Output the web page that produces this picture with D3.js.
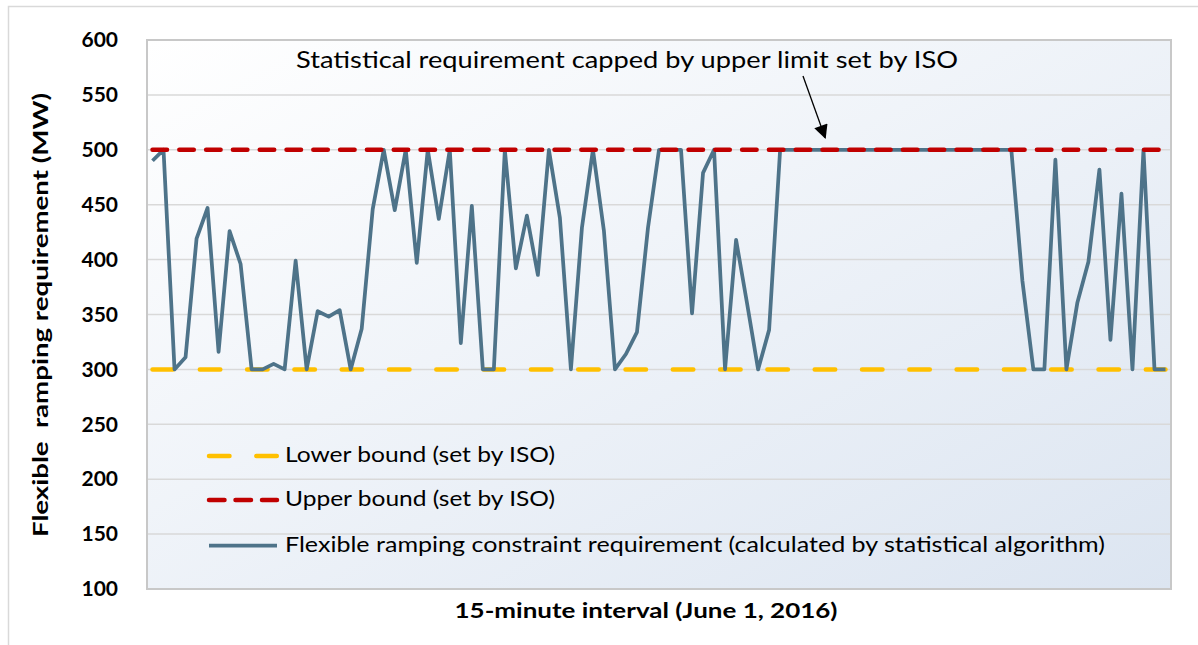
<!DOCTYPE html>
<html>
<head>
<meta charset="utf-8">
<script src="https://cdn.jsdelivr.net/npm/d3@7"></script>
<style>
  html, body { margin: 0; padding: 0; background: #ffffff; }
  svg { display: block; }
  text { font-family: Lato, "Open Sans", "DejaVu Sans", sans-serif; fill: #000; }
</style>
</head>
<body>
<svg id="chart" width="1198" height="645"></svg>
<script>
// Flexible ramping constraint requirement, 15-minute intervals (MW)
const requirement = [
  490, 500, 300, 311, 419, 447, 316, 426, 396, 300,
  300, 305, 300, 399, 300, 353, 348, 354, 300, 337,
  446, 500, 445, 500, 397, 500, 437, 500, 324, 449,
  300, 300, 500, 392, 440, 386, 500, 438, 300, 429,
  500, 426, 300, 314, 334, 429, 500, 500, 500, 351,
  479, 500, 300, 418, 360, 300, 336, 500, 500, 500,
  500, 500, 500, 500, 500, 500, 500, 500, 500, 500,
  500, 500, 500, 500, 500, 500, 500, 500, 500, 381,
  300, 300, 491, 300, 361, 398, 482, 327, 460, 300,
  500, 300, 300
];
const intervals = requirement.map((_, i) => i + 1);
const lowerBoundMW = 300;
const upperBoundMW = 500;
const yTicks = [100, 150, 200, 250, 300, 350, 400, 450, 500, 550, 600];

const seriesNames = [
  "Lower bound (set by ISO)",
  "Upper bound (set by ISO)",
  "Flexible ramping constraint requirement (calculated by statistical algorithm)"
];
const yTitle = "Flexible  ramping requirement (MW)";
const xTitle = "15-minute interval (June 1, 2016)";
const noteText = "Statistical requirement capped by upper limit set by ISO";

const svg = d3.select("#chart");
const plot = { left: 147, right: 1171, top: 40, bottom: 589 };

const x = d3.scalePoint().domain(intervals).range([plot.left, plot.right]).padding(0.5);
const y = d3.scaleLinear().domain([100, 600]).range([plot.bottom, plot.top]);

// outer chart frame
svg.append("path")
  .attr("d", "M8.5,650 L8.5,6.5 L1200,6.5")
  .attr("fill", "none").attr("stroke", "#d9d9d9").attr("stroke-width", 1.5);

// plot background gradient
const defs = svg.append("defs");
const grad = defs.append("linearGradient").attr("id", "plotBg")
  .attr("x1", 0).attr("y1", 0).attr("x2", 1).attr("y2", 1);
grad.append("stop").attr("offset", "0%").attr("stop-color", "#ffffff");
grad.append("stop").attr("offset", "100%").attr("stop-color", "#dce5f1");

defs.append("marker").attr("id", "arrowHead")
  .attr("viewBox", "0 0 10 10").attr("refX", 9).attr("refY", 5)
  .attr("markerWidth", 15).attr("markerHeight", 14)
  .attr("markerUnits", "userSpaceOnUse").attr("orient", "auto")
  .append("path").attr("d", "M0,0 L10,5 L0,10 Z").attr("fill", "#000");

svg.append("rect")
  .attr("x", plot.left).attr("y", plot.top)
  .attr("width", plot.right - plot.left).attr("height", plot.bottom - plot.top)
  .attr("fill", "url(#plotBg)");

// horizontal gridlines
svg.append("g").selectAll("line")
  .data(yTicks.filter(d => d > 100 && d < 600))
  .join("line")
  .attr("x1", plot.left).attr("x2", plot.right)
  .attr("y1", d => y(d)).attr("y2", d => y(d))
  .attr("stroke", "#d9d9d9").attr("stroke-width", 1.5);

// y axis tick labels
const yAxis = svg.append("g")
  .attr("transform", `translate(${plot.left},0)`)
  .call(d3.axisLeft(y).tickValues(yTicks).tickSize(0).tickPadding(29).tickFormat(d3.format("d")));
yAxis.select(".domain").remove();
yAxis.selectAll("text")
  .style("font-family", "Lato, 'Open Sans', sans-serif")
  .attr("font-size", 21).attr("font-weight", "bold").attr("fill", "#000");

const line = d3.line().x((d, i) => x(intervals[i])).y(d => y(d));
const lowerSeries = intervals.map(() => lowerBoundMW);
const upperSeries = intervals.map(() => upperBoundMW);

const styles = [
  { color: "#ffc000", width: 4.5, dash: "20.5,26.8", cap: "round" },
  { color: "#c00000", width: 4.5, dash: "14.5,12.3", cap: "round" },
  { color: "#4e7389", width: 3.75, dash: null, cap: "butt" }
];

// lower bound, requirement, upper bound
const drawOrder = [
  { data: lowerSeries, s: styles[0] },
  { data: requirement, s: styles[2] },
  { data: upperSeries, s: styles[1] }
];
drawOrder.forEach(({ data, s }) => {
  svg.append("path")
    .attr("d", line(data))
    .attr("fill", "none")
    .attr("stroke", s.color)
    .attr("stroke-width", s.width)
    .attr("stroke-linejoin", "round")
    .attr("stroke-linecap", s.cap)
    .attr("stroke-dasharray", s.dash);
});

// plot border
svg.append("rect")
  .attr("x", plot.left).attr("y", plot.top)
  .attr("width", plot.right - plot.left).attr("height", plot.bottom - plot.top)
  .attr("fill", "none").attr("stroke", "#c8c8c8").attr("stroke-width", 2);

// legend
const legendRows = [
  { y: 456, s: styles[0], dash: "20.5,26.8", widthText: 270 },
  { y: 500, s: styles[1], dash: "15.5,11", widthText: 270 },
  { y: 545.5, s: styles[2], dash: null, widthText: 820 }
];
const legend = svg.append("g");
legendRows.forEach((r, i) => {
  legend.append("line")
    .attr("x1", 209).attr("x2", 277)
    .attr("y1", r.y).attr("y2", r.y)
    .attr("stroke", r.s.color).attr("stroke-width", r.s.width)
    .attr("stroke-linecap", r.s.cap === "round" ? "round" : "butt")
    .attr("stroke-dasharray", r.dash);
  legend.append("text")
    .attr("x", 285).attr("y", r.y + 1)
    .attr("dominant-baseline", "middle")
    .attr("font-size", 21.5)
    .attr("textLength", r.widthText).attr("lengthAdjust", "spacingAndGlyphs")
    .text(seriesNames[i]);
});

// annotation with arrow
svg.append("text")
  .attr("x", 296).attr("y", 62)
  .attr("dominant-baseline", "middle")
  .attr("font-size", 23.5)
  .attr("textLength", 662).attr("lengthAdjust", "spacingAndGlyphs")
  .text(noteText);
svg.append("line")
  .attr("x1", 803).attr("y1", 76)
  .attr("x2", x(intervals[61]) + 1).attr("y2", y(upperBoundMW) - 12)
  .attr("stroke", "#000").attr("stroke-width", 1.3)
  .attr("marker-end", "url(#arrowHead)");

// axis titles
svg.append("text")
  .attr("transform", "translate(42,315) rotate(-90)")
  .attr("text-anchor", "middle").attr("dominant-baseline", "middle")
  .attr("font-size", 21.5).attr("font-weight", "bold")
  .attr("textLength", 444).attr("lengthAdjust", "spacingAndGlyphs")
  .style("white-space", "pre")
  .text(yTitle);
svg.append("text")
  .attr("x", 646).attr("y", 612)
  .attr("text-anchor", "middle").attr("dominant-baseline", "middle")
  .attr("font-size", 21.5).attr("font-weight", "bold")
  .attr("textLength", 383).attr("lengthAdjust", "spacingAndGlyphs")
  .text(xTitle);
</script>
</body>
</html>
